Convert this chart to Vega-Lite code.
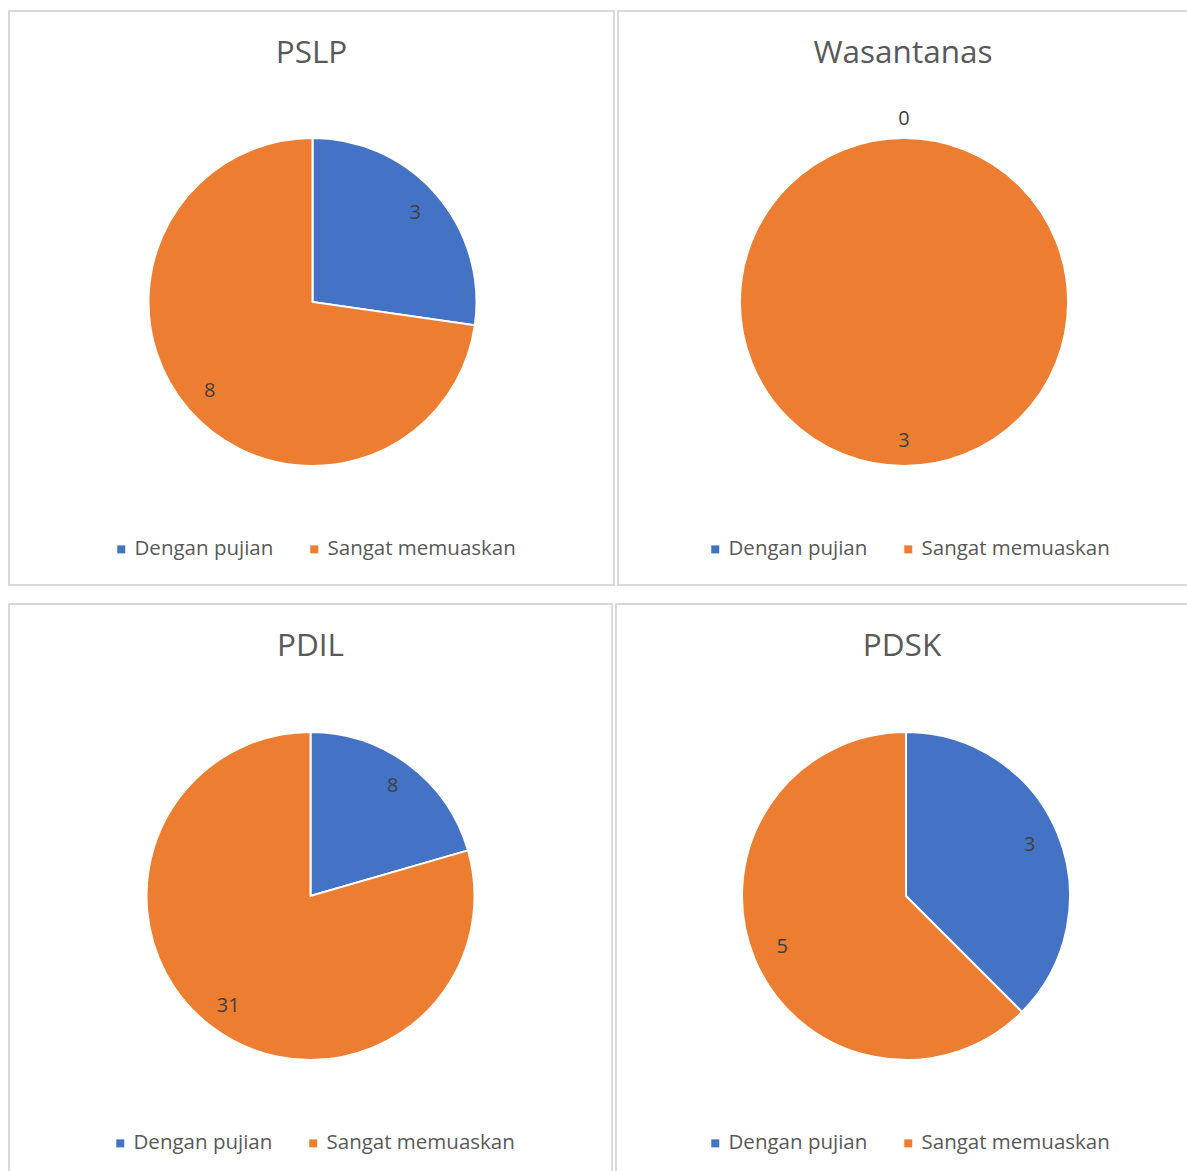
{
  "$schema": "https://vega.github.io/schema/vega-lite/v6.json",
  "padding": {"left": 8, "top": 10, "right": 0, "bottom": 0},
  "background": "white",
  "config": {
    "view": {"stroke": "#d9d9d9", "strokeWidth": 2},
    "font": "Open Sans",
    "title": {"fontSize": 31.5, "fontWeight": "normal", "color": "#595959", "anchor": "middle", "offset": -58, "baseline": "alphabetic"},
    "legend": {"orient": "none", "direction": "horizontal", "symbolType": "square", "symbolSize": 64, "symbolStrokeWidth": 0, "labelFontSize": 20.5, "labelColor": "#595959", "labelOffset": 3, "columnPadding": 30, "padding": 0, "title": null, "labelLimit": 400}
  },
  "data": {"values": [
    {"chart": "PSLP", "category": "Dengan pujian", "value": 3, "order": 1},
    {"chart": "PSLP", "category": "Sangat memuaskan", "value": 8, "order": 2},
    {"chart": "Wasantanas", "category": "Dengan pujian", "value": 0, "order": 1},
    {"chart": "Wasantanas", "category": "Sangat memuaskan", "value": 3, "order": 2},
    {"chart": "PDIL", "category": "Dengan pujian", "value": 8, "order": 1},
    {"chart": "PDIL", "category": "Sangat memuaskan", "value": 31, "order": 2},
    {"chart": "PDSK", "category": "Dengan pujian", "value": 3, "order": 1},
    {"chart": "PDSK", "category": "Sangat memuaskan", "value": 5, "order": 2}
  ]},
  "resolve": {"legend": {"color": "independent"}, "scale": {"radius": "independent", "theta": "independent"}},
  "spacing": 17,
  "vconcat": [
    {
      "hconcat": [
        {
          "width": 605, "height": 574,
          "view": {"stroke": "#d9d9d9", "strokeWidth": 2},
          "title": "PSLP",
          "transform": [{"filter": "datum.chart == 'PSLP'"}],
          "encoding": {"theta": {"field": "value", "type": "quantitative", "stack": true}, "order": {"field": "order"}},
          "layer": [
            {"mark": {"type": "arc", "outerRadius": 164, "stroke": "white", "strokeWidth": 2, "xOffset": 1, "yOffset": 4},
             "encoding": {"color": {"field": "category", "type": "nominal", "scale": {"domain": ["Dengan pujian", "Sangat memuaskan"], "range": ["#4472c4", "#ed7d31"]}, "legend": {"legendX": 102, "legendY": 528}}}},
            {"mark": {"type": "text", "fontSize": 20, "color": "#404040", "xOffset": 1, "yOffset": 4},
             "encoding": {"text": {"field": "value"}, "radius": {"field": "value", "type": "quantitative", "scale": {"domain": [0, 1], "range": [183, 136], "clamp": true}, "legend": null}}}
          ]
        },
        {
          "width": 570, "height": 574,
          "view": {"stroke": "#d9d9d9", "strokeWidth": 2},
          "title": "Wasantanas",
          "transform": [{"filter": "datum.chart == 'Wasantanas'"}],
          "encoding": {"theta": {"field": "value", "type": "quantitative", "stack": true}, "order": {"field": "order"}},
          "layer": [
            {"mark": {"type": "arc", "outerRadius": 164, "stroke": "white", "strokeWidth": 2, "xOffset": 1, "yOffset": 4},
             "encoding": {"color": {"field": "category", "type": "nominal", "scale": {"domain": ["Dengan pujian", "Sangat memuaskan"], "range": ["#4472c4", "#ed7d31"]}, "legend": {"legendX": 87, "legendY": 528}}}},
            {"mark": {"type": "text", "fontSize": 20, "color": "#404040", "xOffset": 1, "yOffset": 4},
             "encoding": {"text": {"field": "value"}, "radius": {"field": "value", "type": "quantitative", "scale": {"domain": [0, 1], "range": [183, 139], "clamp": true}, "legend": null}}}
          ]
        }
      ],
      "spacing": 2,
      "resolve": {"legend": {"color": "independent"}, "scale": {"radius": "independent", "theta": "independent"}}
    },
    {
      "hconcat": [
        {
          "width": 603, "height": 568,
          "view": {"stroke": "#d9d9d9", "strokeWidth": 2},
          "title": "PDIL",
          "transform": [{"filter": "datum.chart == 'PDIL'"}],
          "encoding": {"theta": {"field": "value", "type": "quantitative", "stack": true}, "order": {"field": "order"}},
          "layer": [
            {"mark": {"type": "arc", "outerRadius": 164, "stroke": "white", "strokeWidth": 2, "yOffset": 8},
             "encoding": {"color": {"field": "category", "type": "nominal", "scale": {"domain": ["Dengan pujian", "Sangat memuaskan"], "range": ["#4472c4", "#ed7d31"]}, "legend": {"legendX": 101, "legendY": 529}}}},
            {"mark": {"type": "text", "fontSize": 20, "color": "#404040", "yOffset": 8},
             "encoding": {"text": {"field": "value"}, "radius": {"field": "value", "type": "quantitative", "scale": {"domain": [0, 1], "range": [183, 137], "clamp": true}, "legend": null}}}
          ]
        },
        {
          "width": 572, "height": 568,
          "view": {"stroke": "#d9d9d9", "strokeWidth": 2},
          "title": "PDSK",
          "transform": [{"filter": "datum.chart == 'PDSK'"}],
          "encoding": {"theta": {"field": "value", "type": "quantitative", "stack": true}, "order": {"field": "order"}},
          "layer": [
            {"mark": {"type": "arc", "outerRadius": 164, "stroke": "white", "strokeWidth": 2, "xOffset": 4, "yOffset": 8},
             "encoding": {"color": {"field": "category", "type": "nominal", "scale": {"domain": ["Dengan pujian", "Sangat memuaskan"], "range": ["#4472c4", "#ed7d31"]}, "legend": {"legendX": 89, "legendY": 529}}}},
            {"mark": {"type": "text", "fontSize": 20, "color": "#404040", "xOffset": 4, "yOffset": 8},
             "encoding": {"text": {"field": "value"}, "radius": {"field": "value", "type": "quantitative", "scale": {"domain": [0, 1], "range": [183, 134], "clamp": true}, "legend": null}}}
          ]
        }
      ],
      "spacing": 2,
      "resolve": {"legend": {"color": "independent"}, "scale": {"radius": "independent", "theta": "independent"}}
    }
  ]
}
